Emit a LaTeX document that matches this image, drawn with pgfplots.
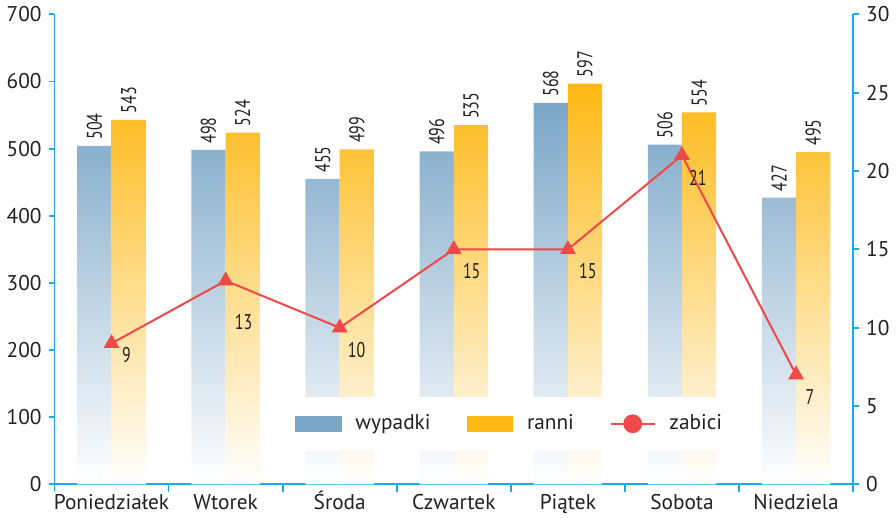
\documentclass[border=0pt]{standalone}
\usepackage{pgfplots}
\pgfplotsset{compat=1.18}
\usepackage{pgfplotstable}
\usepackage{graphicx}
\usepackage{fontspec}
\setmainfont{PT Sans}

\definecolor{axiscyan}{RGB}{25,172,232}
\definecolor{barblue}{RGB}{123,166,199}
\definecolor{barorange}{RGB}{253,184,19}
\definecolor{linered}{RGB}{238,72,72}
\definecolor{textdark}{RGB}{35,31,32}

% wypadki / ranni per day
\pgfplotstableread{
x wyp ranni
0 504 543
1 498 524
2 455 499
3 496 535
4 568 597
5 506 554
6 427 495
}\daydata

% zabici, with label offsets (pt)
\pgfplotstableread{
x zab dx dy
0 9 7.5 6
1 13 9 21
2 10 8.5 11
3 15 9 11
4 15 10 11
5 21 8 11.5
6 7 7 11
}\killed

\pgfplotsset{
  daystyle/.style={
    scale only axis, width=401pt, height=236pt,
    xmin=-0.5, xmax=6.5,
    tick align=outside,
    major tick length=3pt, minor tick length=4pt,
    axis line style={axiscyan, line width=0.9pt, -},
    tick style={axiscyan, line width=0.9pt},
    tick label style={font=\fontsize{10.7}{13}\selectfont, text=textdark},
    /pgf/number format/assume math mode=true,
  },
}

\begin{document}
\begin{tikzpicture}
\begin{axis}[
  daystyle,
  ybar=0pt, bar width=0.3,
  ymin=0, ymax=700,
  axis y line*=left, axis x line*=bottom,
  ytick={0,100,...,700},
  xtick={0,...,6},
  xticklabels={Poniedziałek,Wtorek,Środa,Czwartek,Piątek,Sobota,Niedziela},
  xticklabel style={text height=0.72em, text depth=0.22em, inner sep=2pt},
  minor xtick={-0.5,0.5,...,6.5},
  major x tick style={draw=none},
  nodes near coords={\scalebox{0.75}[1]{\pgfmathprintnumber\pgfplotspointmeta}},
  every node near coord/.append style={rotate=90, anchor=west, inner sep=3pt,
    text=textdark, font=\fontsize{10.7}{13}\selectfont},
]
\addplot[bar shift=-0.15, draw=none, top color=barblue, bottom color=white]
  table[x=x, y=wyp] {\daydata};
\addplot[bar shift=0.15, draw=none, top color=barorange, bottom color=white]
  table[x=x, y=ranni] {\daydata};
\end{axis}

\begin{axis}[
  daystyle,
  ymin=0, ymax=30,
  axis y line*=right, axis x line=none,
  ytick={0,5,...,30},
  legend columns=-1,
  legend style={at={(0.571,0.129)}, anchor=center, fill=white, draw=none,
    inner xsep=12pt, inner ysep=7pt,
    font=\fontsize{10.7}{13}\selectfont, text=textdark,
    /tikz/every odd column/.append style={column sep=5pt},
    /tikz/every even column/.append style={column sep=16pt}},
]
\addlegendimage{legend image code/.code={\fill[barblue] (0pt,-3.75pt) rectangle (23pt,3.75pt);}}
\addlegendentry{wypadki}
\addlegendimage{legend image code/.code={\fill[barorange] (0pt,-3.75pt) rectangle (23pt,3.75pt);}}
\addlegendentry{ranni}
\addplot[linered, line width=1pt, mark=triangle*, mark size=3.6pt,
  visualization depends on={\thisrow{dx} \as \dx},
  visualization depends on={\thisrow{dy} \as \dy},
  nodes near coords={\scalebox{0.75}[1]{\pgfmathprintnumber\pgfplotspointmeta}},
  every node near coord/.append style={anchor=center, xshift=\dx pt, yshift=-\dy pt,
    text=textdark, font=\fontsize{10.7}{13}\selectfont},
  legend image code/.code={
    \draw[linered, line width=1pt] (0pt,0pt) -- (22pt,0pt);
    \fill[linered] (11pt,0pt) circle (4.2pt);}]
  table[x=x, y=zab] {\killed};
\addlegendentry{zabici}
\end{axis}
\end{tikzpicture}
\end{document}
